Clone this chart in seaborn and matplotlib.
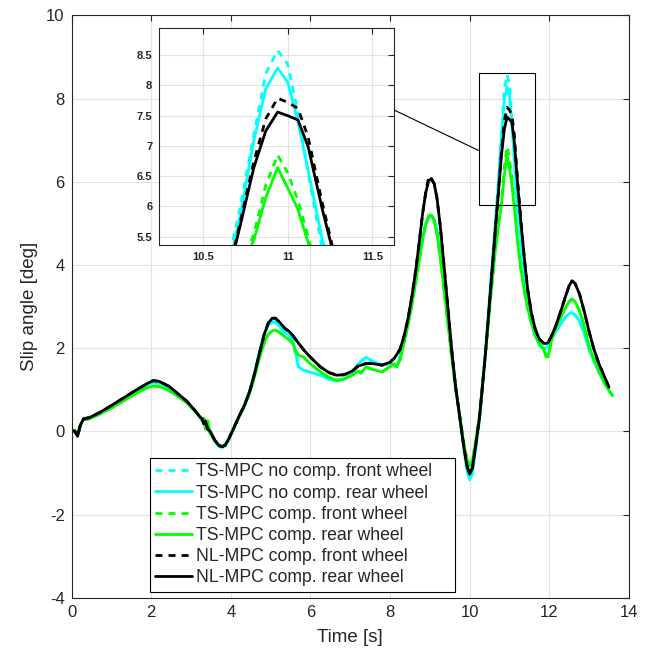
import numpy as np
import pandas as pd
import seaborn as sns
import matplotlib
matplotlib.use('Agg')
import matplotlib.pyplot as plt
from matplotlib.patches import Rectangle, ConnectionPatch
from matplotlib.ticker import FormatStrFormatter

# time axis shared by all series [s]
time_s = [0.00, 0.08, 0.15, 0.22, 0.30, 0.45, 0.70, 1.00, 1.30, 1.60,
          1.90, 2.05, 2.20, 2.45, 2.70, 2.90, 3.10, 3.22, 3.28, 3.32,
          3.36, 3.42, 3.48, 3.60, 3.70, 3.78, 3.86, 3.95, 4.05, 4.20,
          4.35, 4.48, 4.60, 4.72, 4.84, 4.94, 5.04, 5.12, 5.22, 5.35,
          5.48, 5.56, 5.62, 5.70, 5.82, 6.00, 6.25, 6.45, 6.65, 6.85,
          7.05, 7.20, 7.27, 7.40, 7.55, 7.80, 8.00, 8.10, 8.17, 8.25,
          8.35, 8.45, 8.55, 8.65, 8.74, 8.82, 8.90, 8.97, 9.04, 9.11,
          9.18, 9.26, 9.35, 9.45, 9.55, 9.65, 9.75, 9.85, 9.93, 10.00,
          10.07, 10.15, 10.25, 10.40, 10.55, 10.65, 10.72, 10.80, 10.87, 10.94,
          11.00, 11.06, 11.12, 11.20, 11.28, 11.38, 11.46, 11.55, 11.65, 11.75,
          11.85, 11.92, 11.97, 12.05, 12.15, 12.27, 12.40, 12.50, 12.57, 12.65,
          12.76, 12.88, 13.00, 13.12, 13.25, 13.38, 13.50, 13.59]

# NL-MPC comp. rear wheel
nl_rear = [0.02, 0.00, -0.12, 0.15, 0.30, 0.33, 0.45, 0.62, 0.80, 0.98,
           1.15, 1.22, 1.20, 1.08, 0.88, 0.72, 0.50, 0.35, 0.30, 0.18,
           0.25, 0.05, 0.00, -0.22, -0.34, -0.37, -0.33, -0.18, 0.03, 0.35,
           0.64, 0.98, 1.40, 1.88, 2.33, 2.60, 2.72, 2.72, 2.63, 2.48,
           2.39, 2.30, 2.22, 2.12, 1.97, 1.78, 1.55, 1.42, 1.35, 1.36,
           1.45, 1.57, 1.59, 1.63, 1.63, 1.59, 1.66, 1.75, 1.85, 1.97,
           2.28, 2.70, 3.25, 3.90, 4.60, 5.25, 5.75, 6.02, 6.08, 5.95,
           5.60, 4.95, 4.05, 3.00, 1.95, 1.05, 0.35, -0.35, -0.82, -1.03,
           -0.88, -0.35, 0.35, 1.90, 3.70, 4.90, 5.70, 6.65, 7.25, 7.56,
           7.50, 7.43, 6.99, 6.00, 5.10, 4.10, 3.40, 2.85, 2.45, 2.22,
           2.12, 2.11, 2.13, 2.28, 2.50, 2.83, 3.22, 3.50, 3.62, 3.55,
           3.30, 2.88, 2.40, 1.98, 1.62, 1.33, 1.06, np.nan]
# NL-MPC comp. front wheel
nl_front = [0.02, 0.00, -0.12, 0.15, 0.30, 0.33, 0.45, 0.62, 0.80, 0.98,
            1.15, 1.22, 1.20, 1.08, 0.88, 0.72, 0.50, 0.35, 0.30, 0.18,
            0.25, 0.05, 0.00, -0.22, -0.34, -0.37, -0.33, -0.18, 0.03, 0.35,
            0.64, 0.98, 1.40, 1.88, 2.33, 2.60, 2.72, 2.72, 2.63, 2.48,
            2.39, 2.30, 2.22, 2.12, 1.97, 1.78, 1.55, 1.42, 1.35, 1.36,
            1.45, 1.57, 1.59, 1.63, 1.63, 1.59, 1.66, 1.75, 1.85, 1.97,
            2.28, 2.70, 3.25, 3.90, 4.60, 5.25, 5.78, 6.10, 6.06, 5.95,
            5.60, 4.95, 4.05, 3.00, 1.95, 1.05, 0.35, -0.35, -0.82, -1.03,
            -0.88, -0.35, 0.35, 1.90, 3.70, 4.90, 5.75, 6.75, 7.45, 7.79,
            7.72, 7.62, 7.15, 6.10, 5.15, 4.10, 3.40, 2.85, 2.45, 2.22,
            2.12, 2.11, 2.13, 2.28, 2.50, 2.83, 3.22, 3.50, 3.62, 3.55,
            3.30, 2.88, 2.40, 1.98, 1.62, 1.33, 1.06, np.nan]
# TS-MPC no comp. rear wheel
tsnc_rear = [0.02, 0.00, -0.10, 0.15, 0.30, 0.33, 0.44, 0.60, 0.78, 0.95,
             1.12, 1.18, 1.16, 1.05, 0.86, 0.70, 0.49, 0.35, 0.30, 0.20,
             0.22, 0.05, 0.00, -0.24, -0.36, -0.39, -0.35, -0.20, 0.02, 0.34,
             0.65, 1.00, 1.43, 1.92, 2.35, 2.55, 2.63, 2.62, 2.53, 2.38,
             2.30, 2.20, 1.90, 1.55, 1.47, 1.42, 1.35, 1.26, 1.21, 1.25,
             1.39, 1.62, 1.68, 1.78, 1.68, 1.60, 1.63, 1.60, 1.55, 1.80,
             2.18, 2.60, 3.10, 3.70, 4.25, 4.70, 5.00, 5.14, 5.18, 5.10,
             4.82, 4.30, 3.60, 2.80, 1.90, 1.05, 0.35, -0.40, -0.92, -1.17,
             -1.00, -0.45, 0.30, 1.95, 3.80, 5.00, 5.85, 7.10, 7.95, 8.29,
             8.05, 7.40, 6.60, 5.50, 4.65, 3.80, 3.20, 2.70, 2.30, 2.07,
             1.98, 2.00, 2.05, 2.22, 2.38, 2.55, 2.74, 2.83, 2.85, 2.80,
             2.65, 2.35, 1.97, 1.70, 1.42, 1.18, 0.98, 0.86]
# TS-MPC no comp. front wheel
tsnc_front = [0.02, 0.00, -0.10, 0.15, 0.30, 0.33, 0.44, 0.60, 0.78, 0.95,
              1.12, 1.18, 1.16, 1.05, 0.86, 0.70, 0.49, 0.35, 0.30, 0.20,
              0.22, 0.05, 0.00, -0.24, -0.36, -0.39, -0.35, -0.20, 0.02, 0.34,
              0.65, 1.00, 1.43, 1.92, 2.35, 2.55, 2.63, 2.62, 2.53, 2.38,
              2.30, 2.20, 1.90, 1.55, 1.47, 1.42, 1.35, 1.26, 1.21, 1.25,
              1.39, 1.62, 1.68, 1.78, 1.68, 1.60, 1.63, 1.60, 1.55, 1.80,
              2.18, 2.60, 3.10, 3.70, 4.25, 4.70, 5.00, 5.14, 5.18, 5.10,
              4.82, 4.30, 3.60, 2.80, 1.90, 1.05, 0.35, -0.40, -0.92, -1.17,
              -1.00, -0.45, 0.30, 1.95, 3.85, 5.10, 6.00, 7.20, 8.20, 8.58,
              8.35, 7.55, 6.55, 5.35, 4.55, 3.75, 3.20, 2.70, 2.30, 2.07,
              1.98, 2.00, 2.05, 2.22, 2.38, 2.55, 2.74, 2.83, 2.85, 2.80,
              2.65, 2.35, 1.97, 1.70, 1.42, 1.18, 0.98, 0.86]
# TS-MPC comp. rear wheel
tsc_rear = [0.02, 0.02, -0.10, 0.15, 0.28, 0.30, 0.41, 0.56, 0.73, 0.90,
            1.05, 1.09, 1.08, 0.98, 0.82, 0.68, 0.48, 0.36, 0.25, 0.32,
            0.05, 0.25, -0.05, -0.22, -0.33, -0.36, -0.32, -0.17, 0.03, 0.33,
            0.62, 0.94, 1.33, 1.77, 2.13, 2.33, 2.42, 2.43, 2.38, 2.28,
            2.19, 2.11, 1.95, 1.83, 1.79, 1.62, 1.43, 1.30, 1.23, 1.26,
            1.35, 1.45, 1.40, 1.55, 1.49, 1.43, 1.55, 1.62, 1.55, 1.72,
            2.12, 2.55, 3.05, 3.62, 4.15, 4.62, 4.98, 5.16, 5.20, 5.06,
            4.75, 4.20, 3.45, 2.62, 1.78, 1.00, 0.40, -0.28, -0.66, -0.83,
            -0.70, -0.25, 0.40, 1.90, 3.45, 4.40, 4.90, 5.45, 6.15, 6.64,
            6.30, 5.95, 5.40, 4.60, 3.95, 3.35, 2.95, 2.60, 2.30, 2.10,
            2.00, 1.80, 1.79, 2.15, 2.45, 2.70, 2.96, 3.12, 3.18, 3.12,
            2.90, 2.52, 2.05, 1.74, 1.44, 1.18, 0.98, 0.86]
# TS-MPC comp. front wheel
tsc_front = [0.02, 0.02, -0.10, 0.15, 0.28, 0.30, 0.41, 0.56, 0.73, 0.90,
             1.05, 1.09, 1.08, 0.98, 0.82, 0.68, 0.48, 0.36, 0.25, 0.32,
             0.05, 0.25, -0.05, -0.22, -0.33, -0.36, -0.32, -0.17, 0.03, 0.33,
             0.62, 0.94, 1.33, 1.77, 2.13, 2.33, 2.42, 2.43, 2.38, 2.28,
             2.19, 2.11, 1.95, 1.83, 1.79, 1.62, 1.43, 1.30, 1.23, 1.26,
             1.35, 1.45, 1.40, 1.55, 1.49, 1.43, 1.55, 1.62, 1.55, 1.72,
             2.12, 2.55, 3.05, 3.62, 4.15, 4.62, 4.98, 5.18, 5.22, 5.06,
             4.75, 4.20, 3.45, 2.62, 1.78, 1.00, 0.40, -0.28, -0.66, -0.83,
             -0.70, -0.25, 0.40, 1.90, 3.45, 4.45, 4.95, 5.55, 6.35, 6.85,
             6.55, 6.10, 5.50, 4.65, 3.95, 3.35, 2.95, 2.60, 2.30, 2.10,
             2.00, 1.80, 1.79, 2.15, 2.45, 2.70, 2.96, 3.12, 3.18, 3.12,
             2.90, 2.52, 2.05, 1.74, 1.44, 1.18, 0.98, 0.86]

series_names = ['TS-MPC no comp. front wheel', 'TS-MPC no comp. rear wheel',
                'TS-MPC comp. front wheel', 'TS-MPC comp. rear wheel',
                'NL-MPC comp. front wheel', 'NL-MPC comp. rear wheel']
series_values = [tsnc_front, tsnc_rear, tsc_front, tsc_rear, nl_front, nl_rear]
series_colors = ['#00ffff', '#00ffff', '#00ff00', '#00ff00', '#000000', '#000000']
series_dashed = [True, False, True, False, True, False]

# zoomed region shown in the inset
zoom_t = (10.23, 11.65)
zoom_v = (5.44, 8.61)

sns.set_theme(style='whitegrid')
plt.rcParams['font.family'] = ['Liberation Sans', 'DejaVu Sans']

fig = plt.figure(figsize=(6.51, 6.55), dpi=100)
ax = fig.add_axes([0.110, 0.0875, 0.856, 0.889])
ax_in = fig.add_axes([0.2447, 0.626, 0.361, 0.332])


def draw_series(axis, with_labels):
    for name, vals, col, dash in zip(series_names, series_values, series_colors, series_dashed):
        df = pd.DataFrame({'time': time_s, 'slip': vals}).dropna()
        sns.lineplot(data=df, x='time', y='slip', ax=axis, color=col, lw=2,
                     estimator=None, sort=False,
                     label=name if with_labels else None, legend=False)
        if dash:
            axis.lines[-1].set_dashes((2.5, 2.2))


def style_axis(axis, size, bold=False):
    axis.set_facecolor('white')
    axis.grid(True, color='#e3e3e3', lw=0.8)
    for sp in axis.spines.values():
        sp.set_visible(True)
        sp.set_color('#262626')
        sp.set_linewidth(0.8)
    axis.tick_params(direction='in', top=True, right=True, length=4, width=0.8,
                     colors='#262626', labelsize=size, pad=5)
    if bold:
        for lab in axis.get_xticklabels() + axis.get_yticklabels():
            lab.set_fontweight('bold')


# main plot
draw_series(ax, True)
ax.set_xlim(0, 14)
ax.set_ylim(-4, 10)
ax.set_xticks(np.arange(0, 15, 2))
ax.set_yticks(np.arange(-4, 11, 2))
ax.xaxis.set_major_formatter(FormatStrFormatter('%g'))
ax.yaxis.set_major_formatter(FormatStrFormatter('%g'))
ax.set_xlabel('Time [s]', fontsize=13.5, color='#262626', labelpad=7)
ax.set_ylabel('Slip angle [deg]', fontsize=13.5, color='#262626', labelpad=6)
style_axis(ax, 12)

ax.add_patch(Rectangle((zoom_t[0], zoom_v[0]), zoom_t[1] - zoom_t[0], zoom_v[1] - zoom_v[0],
                       fill=False, ec='black', lw=0.8, zorder=5))

leg = ax.legend(loc='lower left', bbox_to_anchor=(0.2304, 0.0966, 0.4685, 0.2),
                bbox_transform=fig.transFigure, mode='expand',
                borderaxespad=0, fontsize=12.7, frameon=True, fancybox=False, framealpha=1,
                edgecolor='black', labelspacing=0.24, handlelength=2.1, handletextpad=0.2,
                borderpad=0.3)
leg.get_frame().set_linewidth(0.8)

# inset
draw_series(ax_in, False)
ax_in.set_xlim(10.24, 11.63)
ax_in.set_ylim(5.36, 8.96)
ax_in.set_xticks([10.5, 11, 11.5])
ax_in.set_yticks(np.arange(5.5, 8.6, 0.5))
ax_in.xaxis.set_major_formatter(FormatStrFormatter('%g'))
ax_in.yaxis.set_major_formatter(FormatStrFormatter('%g'))
ax_in.set_xlabel('')
ax_in.set_ylabel('')
style_axis(ax_in, 8, bold=True)

con = ConnectionPatch(xyA=(1.0, 0.62), coordsA=ax_in.transAxes,
                      xyB=(zoom_t[0], 6.75), coordsB=ax.transData,
                      color='black', lw=0.8)
fig.add_artist(con)

fig.savefig('out.png', dpi=100)
